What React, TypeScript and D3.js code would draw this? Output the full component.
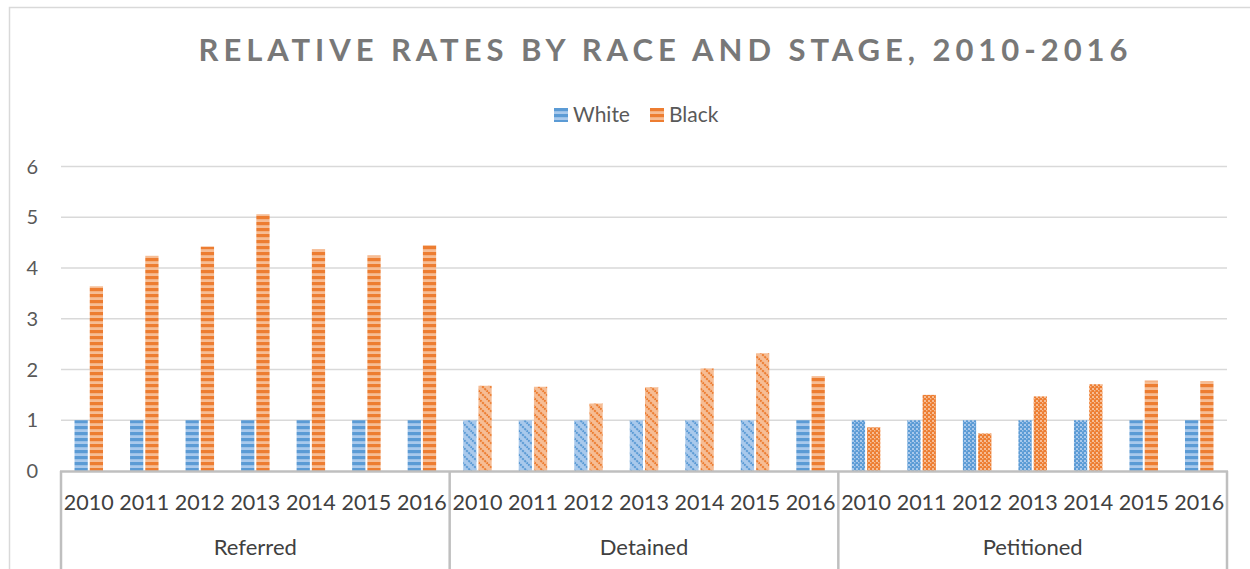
import { useEffect, useRef } from 'react';
import * as d3 from 'd3';

// Data
const stages = ['Referred', 'Detained', 'Petitioned'];
const years = ['2010', '2011', '2012', '2013', '2014', '2015', '2016'];
const seriesNames = ['White', 'Black'];
const whiteRates = [
  1, 1, 1, 1, 1, 1, 1,
  1, 1, 1, 1, 1, 1, 1,
  1, 1, 1, 1, 1, 1, 1,
];
const blackRates = [
  3.64, 4.24, 4.42, 5.06, 4.37, 4.25, 4.45,
  1.68, 1.66, 1.33, 1.65, 2.02, 2.32, 1.87,
  0.86, 1.50, 0.74, 1.47, 1.71, 1.78, 1.77,
];
const yTicks = [0, 1, 2, 3, 4, 5, 6];
// fill pattern used by each category column
const columnPatterns = [
  'stripe', 'stripe', 'stripe', 'stripe', 'stripe', 'stripe', 'stripe',
  'diag', 'diag', 'diag', 'diag', 'diag', 'diag', 'stripe',
  'check', 'check', 'check', 'check', 'check', 'stripe', 'stripe',
];

const FONT = 'Lato, "Open Sans", sans-serif';

export default function App() {
  const svgRef = useRef<SVGSVGElement>(null);

  useEffect(() => {
    if (!svgRef.current) return;
    const svg = d3.select(svgRef.current);
    svg.selectAll('*').remove();

    const width = 1250;
    const height = 569;
    const plot = { left: 61, right: 1227, top: 166.5, bottom: 471 };

    svg.attr('width', width).attr('height', height);

    const colors: Record<string, { dark: string; light: string }> = {
      White: { dark: '#5b9bd5', light: '#a9c9ec' },
      Black: { dark: '#ed7d31', light: '#f6bd95' },
    };

    // Patterns
    const defs = svg.append('defs');
    seriesNames.forEach(s => {
      const c = colors[s];
      const stripe = defs.append('pattern')
        .attr('id', `stripe-${s}`)
        .attr('patternUnits', 'userSpaceOnUse')
        .attr('width', 6).attr('height', 6);
      stripe.append('rect').attr('width', 6).attr('height', 6).attr('fill', c.light);
      stripe.append('rect').attr('width', 6).attr('height', 3.2).attr('fill', c.dark);

      const diag = defs.append('pattern')
        .attr('id', `diag-${s}`)
        .attr('patternUnits', 'userSpaceOnUse')
        .attr('width', 8).attr('height', 8);
      diag.append('rect').attr('width', 8).attr('height', 8).attr('fill', c.light);
      diag.append('path')
        .attr('d', 'M-2,6 L2,10 M0,0 L8,8 M6,-2 L10,2')
        .attr('stroke', c.dark)
        .attr('stroke-width', 2)
        .attr('stroke-dasharray', '2.2,0.9');

      const check = defs.append('pattern')
        .attr('id', `check-${s}`)
        .attr('patternUnits', 'userSpaceOnUse')
        .attr('width', 4).attr('height', 4);
      check.append('rect').attr('width', 4).attr('height', 4).attr('fill', c.dark);
      check.append('rect').attr('width', 2).attr('height', 2).attr('fill', c.light);
      check.append('rect').attr('x', 2).attr('y', 2).attr('width', 1.4).attr('height', 1.4).attr('fill', c.light);
    });

    // Outer chart border
    svg.append('path')
      .attr('d', `M9.5,${height} V7.5 H${width}`)
      .attr('fill', 'none')
      .attr('stroke', '#d9d9d9')
      .attr('stroke-width', 1.5);

    // Scales
    const categories = d3.range(stages.length * years.length).map(String);
    const x0 = d3.scaleBand<string>()
      .domain(categories)
      .range([plot.left, plot.right]);
    const x1 = d3.scaleBand<string>()
      .domain(seriesNames)
      .range([x0.bandwidth() / 2 - 14.25, x0.bandwidth() / 2 + 14.25])
      .paddingInner(0.13);
    const y = d3.scaleLinear()
      .domain([0, 6])
      .range([plot.bottom, plot.top]);

    // Grid
    svg.append('g')
      .selectAll('line')
      .data(yTicks.filter(t => t > 0))
      .join('line')
      .attr('x1', plot.left)
      .attr('x2', plot.right)
      .attr('y1', d => y(d))
      .attr('y2', d => y(d))
      .attr('stroke', '#d9d9d9')
      .attr('stroke-width', 1.5);

    // Y labels
    svg.append('g')
      .selectAll('text')
      .data(yTicks)
      .join('text')
      .attr('x', 38)
      .attr('y', d => y(d) + 7)
      .attr('text-anchor', 'end')
      .style('font-family', FONT)
      .style('font-size', '20px')
      .attr('fill', '#595959')
      .text(d => d);

    // Bars
    const seriesValues: Record<string, number[]> = { White: whiteRates, Black: blackRates };
    seriesNames.forEach(s => {
      svg.append('g')
        .selectAll('rect')
        .data(seriesValues[s])
        .join('rect')
        .attr('x', (_, i) => (x0(String(i)) as number) + (x1(s) as number))
        .attr('y', d => y(d))
        .attr('width', x1.bandwidth())
        .attr('height', d => y(0) - y(d))
        .attr('fill', (_, i) => `url(#${columnPatterns[i]}-${s})`);
    });

    // Category axis
    const axis = svg.append('g');
    axis.append('line')
      .attr('x1', plot.left - 1)
      .attr('x2', plot.right + 1)
      .attr('y1', plot.bottom + 0.5)
      .attr('y2', plot.bottom + 0.5)
      .attr('stroke', '#bfbfbf')
      .attr('stroke-width', 2.5);

    const groupEdges = d3.range(stages.length + 1).map(g =>
      g === stages.length ? plot.right : (x0(String(g * years.length)) as number));
    axis.selectAll('line.div')
      .data(groupEdges)
      .join('line')
      .attr('class', 'div')
      .attr('x1', d => d)
      .attr('x2', d => d)
      .attr('y1', plot.bottom)
      .attr('y2', height)
      .attr('stroke', '#bfbfbf')
      .attr('stroke-width', 2.5);

    axis.selectAll('text.year')
      .data(categories)
      .join('text')
      .attr('class', 'year')
      .attr('x', d => (x0(d) as number) + x0.bandwidth() / 2)
      .attr('y', 510)
      .attr('text-anchor', 'middle')
      .style('font-family', FONT)
      .style('font-size', '21.5px')
      .attr('fill', '#404040')
      .text(d => years[+d % years.length]);

    axis.selectAll('text.stage')
      .data(stages)
      .join('text')
      .attr('class', 'stage')
      .attr('x', (_, i) => (groupEdges[i] + groupEdges[i + 1]) / 2)
      .attr('y', 555)
      .attr('text-anchor', 'middle')
      .style('font-family', FONT)
      .style('font-size', '22px')
      .attr('fill', '#404040')
      .text(d => d);

    // Title
    svg.append('text')
      .attr('x', 663)
      .attr('y', 61)
      .attr('text-anchor', 'middle')
      .attr('textLength', 929)
      .attr('lengthAdjust', 'spacing')
      .style('font-family', FONT)
      .style('font-size', '31px')
      .style('font-weight', '700')
      .attr('fill', '#787878')
      .text('RELATIVE RATES BY RACE AND STAGE, 2010-2016');

    // Legend
    const legendX = [554, 650];
    const legend = svg.append('g');
    seriesNames.forEach((s, i) => {
      legend.append('rect')
        .attr('x', legendX[i])
        .attr('y', 108)
        .attr('width', 14)
        .attr('height', 14)
        .attr('fill', `url(#stripe-${s})`);
      legend.append('text')
        .attr('x', legendX[i] + 19)
        .attr('y', 122)
        .style('font-family', FONT)
        .style('font-size', '21px')
        .attr('fill', '#595959')
        .text(s);
    });
  }, []);

  return (
    <svg
      ref={svgRef}
      style={{ position: 'absolute', left: 0, top: 0, background: '#fff' }}
    />
  );
}
